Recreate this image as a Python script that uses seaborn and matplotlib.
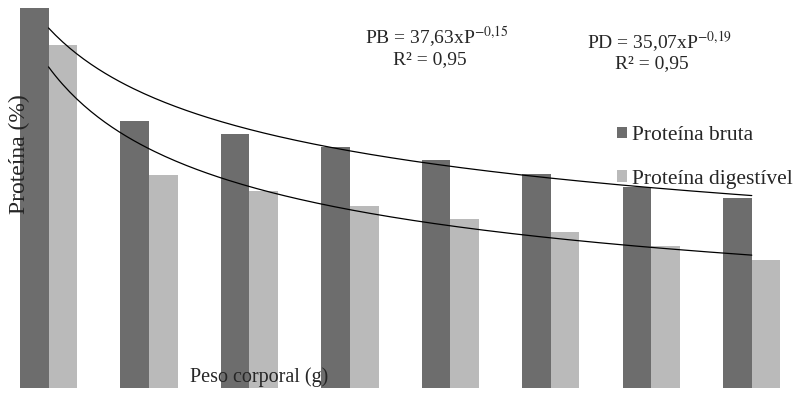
import numpy as np
import pandas as pd
import matplotlib
matplotlib.use("Agg")
import matplotlib.pyplot as plt
import seaborn as sns

# Data (no tick labels in the original)
classes = ["1", "2", "3", "4", "5", "6", "7", "8"]
proteina_bruta = [38.0, 26.7, 25.4, 24.1, 22.8, 21.4, 20.1, 19.0]
proteina_digestivel = [34.3, 21.3, 19.7, 18.2, 16.9, 15.6, 14.2, 12.8]
series_names = ["Proteína bruta", "Proteína digestível"]
bar_colors = ["#6d6d6d", "#bababa"]

df = pd.DataFrame({
    "classe": classes * 2,
    "valor": proteina_bruta + proteina_digestivel,
    "serie": [series_names[0]] * len(classes) + [series_names[1]] * len(classes),
})

sns.set_style("white")
plt.rcParams["font.family"] = ["Liberation Serif", "DejaVu Serif"]
plt.rcParams["mathtext.fontset"] = "stix"

fig = plt.figure(figsize=(8.03, 3.95), dpi=100)
ax = fig.add_axes([0, 7 / 395, 1, 388 / 395])

sns.barplot(data=df, x="classe", y="valor", hue="serie", palette=bar_colors,
            width=0.57, saturation=1, linewidth=0, ax=ax, legend=True)

# power trendlines (Excel style) fitted on category index
xs = np.arange(1, len(classes) + 1)
xfine = np.linspace(1, len(classes), 200)
for vals in (proteina_bruta, proteina_digestivel):
    b, a = np.polyfit(np.log(xs), np.log(vals), 1)
    ax.plot(xfine - 1, np.exp(a) * xfine ** b, color="black", lw=0.9, zorder=5)

ax.set_xlim(-0.483, 7.51)
ax.set_ylim(0, 38.8)
ax.set_xticks([])
ax.set_yticks([])
ax.set_xlabel("")
ax.set_ylabel("")
for s in ax.spines.values():
    s.set_visible(False)

ax.legend(loc="upper left", bbox_to_anchor=(617 / 803, 1 - 126 / 395),
          bbox_transform=fig.transFigure, frameon=False, fontsize=15.5,
          handlelength=0.45, handleheight=0.45, handletextpad=0.25,
          labelspacing=1.15, borderpad=0, borderaxespad=0)

fig.text(19 / 803, 1 - 154 / 395, "Proteína (%)", rotation=90, fontsize=17,
         ha="center", va="center")
fig.text(259 / 803, 1 - 377 / 395, "Peso corporal (g)", fontsize=14.5,
         ha="center", va="center")

fig.text(437 / 803, 1 - 37 / 395, "PB = 37,63xP$^{-0{,}15}$", fontsize=14,
         ha="center", va="center")
fig.text(430 / 803, 1 - 60 / 395, "R² = 0,95", fontsize=14,
         ha="center", va="center")
fig.text(660 / 803, 1 - 42 / 395, "PD = 35,07xP$^{-0{,}19}$", fontsize=14,
         ha="center", va="center")
fig.text(652 / 803, 1 - 64 / 395, "R² = 0,95", fontsize=14,
         ha="center", va="center")

fig.savefig("out.png", dpi=100)
